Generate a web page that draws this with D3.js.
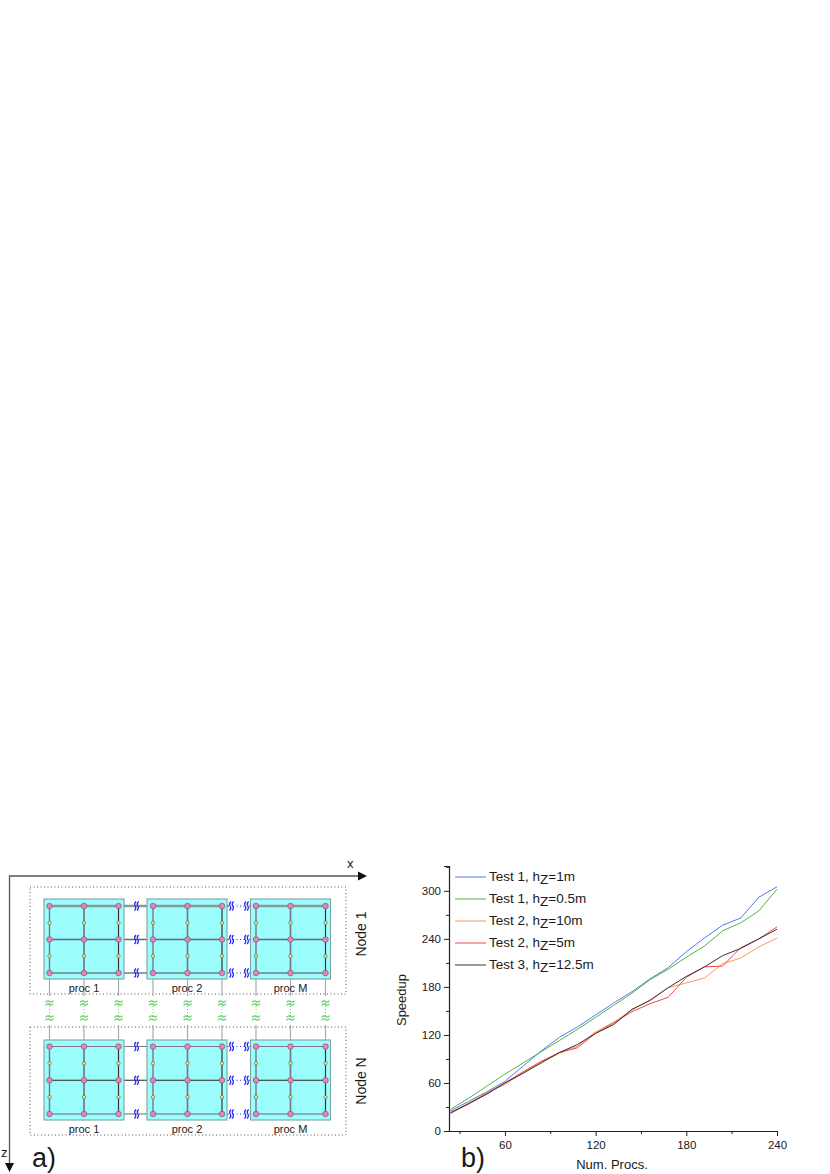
<!DOCTYPE html>
<html><head><meta charset="utf-8">
<script src="https://cdn.jsdelivr.net/npm/d3@7/dist/d3.min.js"></script>
<style>html,body{margin:0;padding:0;background:#fff}svg{display:block}text{font-family:"Liberation Sans",Arial,sans-serif;fill:#1a1a1a}</style>
</head><body><svg id="c" width="830" height="1174"></svg>
<script>
// ---- chart b data ----
const procs = [24,36,48,60,72,84,96,108,120,132,144,156,168,180,192,204,216,228,240];
const t1h1   = [25,37,49,62,81,100,117,130,145,160,174,190,204,224,241,257,266,292,305];
const t1h05  = [27,41,56,71,85,99,113,127,142,157,172,189,202,217,231,250,260,275,302];
const t2h10  = [22,35,48,58,73,86,97,106,124,136,151,164,179,185,191,209,216,230,241];
const t2h5   = [22,34,47,60,74,87,98,104,122,135,149,159,167,192,205,206,229,240,255];
const t3h125 = [23,34,46,60,72,85,98,108,122,133,152,163,179,193,205,219,228,240,252];
const seriesNames = ["Test 1, h|Z|=1m","Test 1, h|Z|=0.5m","Test 2, h|Z|=10m","Test 2, h|Z|=5m","Test 3, h|Z|=12.5m"];
const seriesValues = [t1h1,t1h05,t2h10,t2h5,t3h125];
const seriesColors = ["#5a78f0","#4fb53a","#f79a5c","#f0444c","#333333"];
const yMajor = [0,60,120,180,240,300];
const xMajor = [60,120,180,240];
const yMinor = [30,90,150,210,270,330];
const xMinor = [30,90,150,210];
// ---- diagram a data ----
const procNames = ["proc 1","proc 2","proc M"];
const nodeNames = ["Node 1","Node N"];
const gridCols = [0,1,2];
const gridRows = [0,1,2];

const svg = d3.select("#c");
const x = d3.scaleLinear().domain([23,240]).range([449,777]);
const y = d3.scaleLinear().domain([0,331]).range([1131,866]);

// Axes
const ax = svg.append("g").attr("transform","translate(0,1131)");
ax.call(d3.axisBottom(x).tickValues(xMajor).tickSize(5).tickPadding(5).tickFormat(d3.format("d")));
const axm = svg.append("g").attr("transform","translate(0,1131)");
axm.call(d3.axisBottom(x).tickValues(xMinor).tickSize(3).tickFormat(""));
const ay = svg.append("g").attr("transform","translate(449,0)");
ay.call(d3.axisLeft(y).tickValues(yMajor).tickSize(5).tickPadding(3).tickFormat(d3.format("d")));
const aym = svg.append("g").attr("transform","translate(449,0)");
aym.call(d3.axisLeft(y).tickValues(yMinor).tickSize(3).tickFormat(""));
svg.selectAll(".domain").attr("stroke","#222").attr("stroke-width",1.2);
svg.selectAll(".tick line").attr("stroke","#222");
svg.selectAll(".tick text").style("font-family",'"Liberation Sans",Arial,sans-serif').style("font-size","11.5px").style("fill","#1a1a1a");
ax.select(".domain").attr("d","M449,0.5H777");
axm.select(".domain").remove(); aym.select(".domain").remove();

// Lines
const line = d3.line().x((d,i)=>x(procs[i])).y(d=>y(d));
seriesValues.forEach((v,i)=>{
  svg.append("path").attr("d",line(v)).attr("fill","none").attr("stroke",seriesColors[i]).attr("stroke-width",1);
});
// Legend
const legY = d3.scalePoint().domain(seriesNames).range([877,965]);
seriesNames.forEach((n,i)=>{
  const ly = legY(n);
  svg.append("line").attr("x1",455).attr("x2",486).attr("y1",ly).attr("y2",ly).attr("stroke",seriesColors[i]).attr("stroke-width",1);
  const p = n.split("|");
  const t = svg.append("text").attr("x",489).attr("y",ly+4).attr("font-size",13.5);
  t.append("tspan").text(p[0]);
  t.append("tspan").attr("dy",3).text(p[1]);
  t.append("tspan").attr("dy",-3).text(p[2]);
});
svg.append("text").attr("transform","translate(406,1000) rotate(-90)").attr("text-anchor","middle").attr("font-size",13).text("Speedup");
svg.append("text").attr("x",612).attr("y",1169).attr("text-anchor","middle").attr("font-size",13).text("Num. Procs.");
svg.append("text").attr("x",461).attr("y",1167).attr("font-size",27).text("b)");
svg.append("text").attr("x",32).attr("y",1167).attr("font-size",27).text("a)");

// Diagram scales
const rowY = [d3.scaleLinear().domain([0,2]).range([906,973]), d3.scaleLinear().domain([0,2]).range([1046.5,1114])];
const d = svg.append("g");
// coordinate axes
d.append("path").attr("d","M358,876H9.5V1164").attr("fill","none").attr("stroke","#555").attr("stroke-width",1.3);
d.append("path").attr("d","M358,871.5L367,876L358,880.5Z").attr("fill","#111");
d.append("path").attr("d","M5,1163L9.5,1172L14,1163Z").attr("fill","#111");
d.append("text").attr("x",347).attr("y",868).attr("font-size",13).text("x");
d.append("text").attr("x",1).attr("y",1157).attr("font-size",13).text("z");

// node dotted boxes
const boxY = [[887,994],[1027,1135]];
boxY.forEach(b=>{
  d.append("rect").attr("x",30).attr("y",b[0]).attr("width",316).attr("height",b[1]-b[0]).attr("fill","none").attr("stroke","#555").attr("stroke-width",1).attr("stroke-dasharray","1 2.5");
});
// vertical links between nodes
const colsAll = [49.5,84,118.5,153,187.5,222,256,290.5,325.5];
colsAll.forEach(cx=>{
  d.append("line").attr("x1",cx).attr("x2",cx).attr("y1",973).attr("y2",996).attr("stroke","#aaa").attr("stroke-width",1.2);
  d.append("line").attr("x1",cx).attr("x2",cx).attr("y1",1025).attr("y2",1046).attr("stroke","#aaa").attr("stroke-width",1.2);
  d.append("line").attr("x1",cx).attr("x2",cx).attr("y1",1003).attr("y2",1018).attr("stroke","#5cd05c").attr("stroke-width",1).attr("stroke-dasharray","1 2");
  [1003,1018].forEach(wy=>{
    [-1.5,1.5].forEach(o=>{
      d.append("path").attr("d",`M${cx-4},${wy+o+0.8}q2,-2.4 4,-0.8t4,-0.8`).attr("fill","none").attr("stroke","#5cd05c").attr("stroke-width",1.2);
    });
  });
});
const procX = [44,147,250.5];
const procW = 80;
const squareY = [899,1040];
const rowStroke = [[["#8a9a9a",2.4],["#667",1.5],["#778",1.3]],[["#778",1.1],["#222",1.2],["#667",1.2]]];
const colStroke = [["#778",1.4],["#778",1.7],["#333",1.2]];
nodeNames.forEach((nn,ni)=>{
  const rY = rowY[ni];
  gridRows.forEach(r=>{
    d.append("line").attr("x1",49.5).attr("x2",325.5).attr("y1",rY(r)).attr("y2",rY(r)).attr("stroke",rowStroke[ni][r][0]).attr("stroke-width",rowStroke[ni][r][1]);
  });
  procNames.forEach((pn,pi)=>{
    d.append("rect").attr("x",procX[pi]).attr("y",squareY[ni]).attr("width",procW).attr("height",80).attr("fill","#9cfdfd").attr("stroke","#7ba5a5").attr("stroke-width",1.1);
    d.append("text").attr("x",procX[pi]+40).attr("y",squareY[ni]+93).attr("text-anchor","middle").attr("font-size",11).text(pn);
    gridCols.forEach(c=>{
      const cx = colsAll[pi*3+c];
      d.append("line").attr("x1",cx).attr("x2",cx).attr("y1",rY(0)).attr("y2",rY(2)).attr("stroke",colStroke[c][0]).attr("stroke-width",colStroke[c][1]);
    });
    gridRows.forEach(r=>{
      d.append("line").attr("x1",colsAll[pi*3]).attr("x2",colsAll[pi*3+2]).attr("y1",rY(r)).attr("y2",rY(r)).attr("stroke",rowStroke[ni][r][0]).attr("stroke-width",rowStroke[ni][r][1]);
    });
    gridCols.forEach(c=>{
      const cx = colsAll[pi*3+c];
      [0.5,1.5].forEach(r=>{
        d.append("circle").attr("cx",cx).attr("cy",rY(r)).attr("r",1.7).attr("fill","#eef060").attr("stroke","#667").attr("stroke-width",0.7);
      });
      gridRows.forEach(r=>{
        d.append("circle").attr("cx",cx).attr("cy",rY(r)).attr("r",2.8).attr("fill","#f27fb2").attr("stroke","#667").attr("stroke-width",0.7);
      });
    });
  });
  // blue breaks
  gridRows.forEach(r=>{
    const yy = rY(r);
    d.append("line").attr("x1",229).attr("x2",249).attr("y1",yy).attr("y2",yy).attr("stroke","#fff").attr("stroke-width",3);
    d.append("line").attr("x1",233).attr("x2",246).attr("y1",yy).attr("y2",yy).attr("stroke","#2222ff").attr("stroke-width",1).attr("stroke-dasharray","1 2.5");
    [136.5,231.5,246.5].forEach(bx=>{
      [-1.3,1.3].forEach(o=>{
        d.append("path").attr("d",`M${bx+o+0.8},${yy-4.5}q-2.4,2.2 -0.8,4.5t-0.8,4.5`).attr("fill","none").attr("stroke","#2222ff").attr("stroke-width",1.1);
      });
    });
  });
  d.append("text").attr("transform",`translate(366,${ni===0?934:1081}) rotate(-90)`).attr("text-anchor","middle").attr("font-size",14).text(nn);
});
</script></body></html>
